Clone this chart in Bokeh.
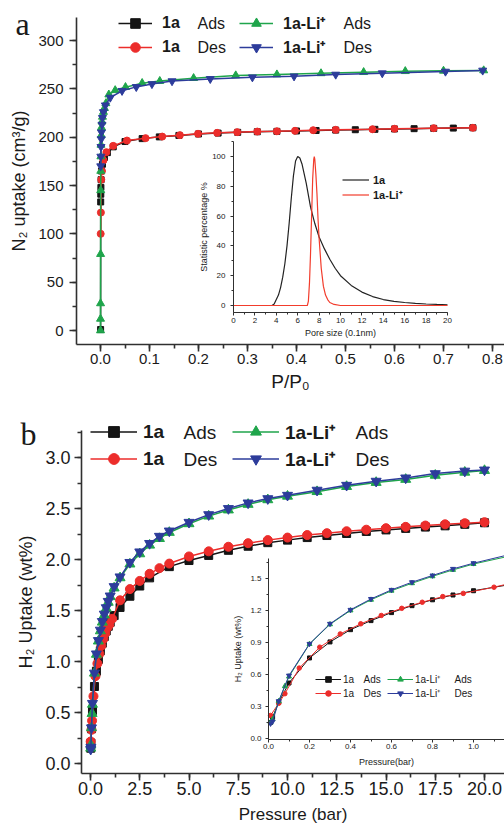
from bokeh.plotting import figure
from bokeh.models import (Range1d, LinearAxis, Legend, LegendItem, Label,
                          SingleIntervalTicker, PrintfTickFormatter, ColumnDataSource)
from bokeh.layouts import column
from bokeh.embed import file_html
from bokeh.resources import INLINE

# ===================== DATA =====================
# Panel a : N2 sorption, P/P0 vs uptake (cm3/g)
n2_1a_ads_p = [0.0002, 0.0004, 0.0006, 0.0008, 0.0012, 0.002, 0.004, 0.008, 0.014, 0.026,
               0.05, 0.085, 0.12, 0.16, 0.2, 0.24, 0.28, 0.32, 0.36, 0.4, 0.44, 0.48,
               0.52, 0.56, 0.6, 0.64, 0.68, 0.72, 0.76]
n2_1a_ads_v = [1, 133, 141, 148, 156, 165, 172, 179, 184, 190,
               195.5, 198.5, 200.3, 201.8, 203.3, 204.2, 205.0, 205.6, 206.0, 206.4, 206.9, 207.3,
               207.7, 208.1, 208.5, 208.8, 209.1, 209.4, 209.7]
n2_1a_des_p = [0.76, 0.68, 0.6, 0.555, 0.48, 0.434, 0.397, 0.36, 0.32, 0.279, 0.238, 0.199,
               0.162, 0.126, 0.092, 0.054, 0.026, 0.012, 0.006, 0.003, 0.0015, 0.0008, 0.0004]
n2_1a_des_v = [209.7, 209.3, 208.7, 208.2, 207.6, 207.2, 206.6, 206.1, 205.8, 205.2, 204.5, 203.5,
               202.1, 200.6, 199.0, 196.5, 191.0, 184.5, 176, 165, 156, 122, 100]
n2_li_ads_p = [0.00002, 0.00005, 0.0001, 0.0002, 0.0004, 0.0006, 0.0008, 0.001, 0.0015, 0.002,
               0.003, 0.004, 0.006, 0.008, 0.011, 0.017, 0.03, 0.051, 0.085, 0.121, 0.19,
               0.276, 0.36, 0.45, 0.537, 0.622, 0.70, 0.782]
n2_li_ads_v = [0, 12, 28, 79, 145, 165, 180, 192, 202, 210,
               216, 221, 226, 230, 235, 244, 248.5, 251.7, 255.9, 258.0, 261.0,
               263.8, 264.8, 266.0, 267.2, 268.2, 268.6, 269.0]
n2_li_des_p = [0.78, 0.704, 0.575, 0.48, 0.395, 0.31, 0.224, 0.146, 0.105, 0.073, 0.044,
               0.02, 0.01, 0.006, 0.004, 0.003, 0.002, 0.0015, 0.001, 0.0007, 0.0005]
n2_li_des_v = [269.0, 267.9, 266.2, 264.8, 263.0, 262.0, 260.3, 258.0, 255.0, 252.0, 248.0,
               241.0, 233.0, 226.0, 220.0, 213.0, 205.0, 198.0, 190.0, 180.0, 170.0]

# Inset a : pore size distribution
psd_1a_size = [0, 3.6, 3.8, 4.0, 4.2, 4.4, 4.6, 4.8, 5.0, 5.2, 5.4, 5.6, 5.8, 6.0, 6.2, 6.4,
               6.8, 7.2, 7.6, 8.0, 8.5, 9.0, 9.5, 10, 11, 12, 13, 14, 15, 16, 17, 18, 19, 20]
psd_1a_pct = [0, 0, 1, 4, 7, 12, 19, 28, 40, 55, 72, 87, 97, 100, 99, 95,
              82, 66, 55, 46, 38, 31, 25, 20, 13.5, 9, 6, 4, 2.8, 2, 1.4, 1, 0.7, 0.5]
psd_li_size = [0, 6.9, 7.0, 7.1, 7.2, 7.3, 7.4, 7.5, 7.55, 7.6, 7.7, 7.8, 7.9, 8.0, 8.2,
               8.4, 8.6, 8.8, 9.0, 9.4, 10, 20]
psd_li_pct = [0, 0, 3, 15, 35, 60, 85, 98, 100, 98, 88, 75, 58, 45, 25,
              13, 7, 4, 2, 0.7, 0, 0]

# Panel b : H2 sorption, pressure (bar) vs uptake (wt%)
h2_1a_ads_p = [0.01, 0.02, 0.05, 0.1, 0.2, 0.3, 0.4, 0.5, 0.6, 0.7, 0.8, 0.9, 1.0, 1.2, 1.5,
               2, 2.5, 3, 4, 5, 6, 7, 8, 9, 10, 11, 12, 13, 14, 15, 16, 17, 18, 19, 20]
h2_1a_ads_w = [0.15, 0.2, 0.34, 0.52, 0.755, 0.905, 1.02, 1.105, 1.18, 1.245, 1.30, 1.345, 1.385,
               1.45, 1.53, 1.64, 1.74, 1.82, 1.93, 1.99, 2.04, 2.09, 2.13, 2.165, 2.19, 2.215,
               2.235, 2.255, 2.275, 2.29, 2.305, 2.318, 2.33, 2.345, 2.36]
h2_1a_des_p = [20, 19, 18, 17, 16, 15, 14, 13, 12, 11, 10, 9, 8, 7, 6, 5, 4, 3.5, 3, 2.5, 2,
               1.5, 1.1, 0.95, 0.85, 0.75, 0.65, 0.55, 0.45, 0.35, 0.25, 0.15, 0.08, 0.05, 0.01]
h2_1a_des_w = [2.366, 2.356, 2.345, 2.333, 2.32, 2.307, 2.292, 2.277, 2.258, 2.24, 2.215, 2.19,
               2.16, 2.125, 2.08, 2.03, 1.96, 1.915, 1.86, 1.79, 1.71, 1.6, 1.418, 1.36, 1.33,
               1.277, 1.22, 1.153, 1.075, 0.98, 0.856, 0.66, 0.42, 0.33, 0.216]
h2_li_ads_p = [0.01, 0.02, 0.05, 0.08, 0.1, 0.2, 0.3, 0.4, 0.5, 0.6, 0.7, 0.8, 0.9, 1.0, 1.2,
               1.5, 2, 2.5, 3, 3.5, 4, 5, 6, 7, 8, 9, 10, 11.5, 13, 14.5, 16, 17.5, 19, 20]
h2_li_ads_w = [0.15, 0.18, 0.35, 0.49, 0.58, 0.885, 1.07, 1.2, 1.3, 1.385, 1.455, 1.52, 1.58,
               1.635, 1.72, 1.82, 1.955, 2.055, 2.14, 2.205, 2.265, 2.35, 2.425, 2.485, 2.54,
               2.585, 2.62, 2.665, 2.715, 2.755, 2.785, 2.825, 2.855, 2.872]
h2_li_des_p = [20, 19, 17.5, 16, 14.5, 13, 11.5, 10, 9, 8, 7, 6, 5, 4, 3.5, 3, 2.5, 2, 1.5,
               1.2, 1.0, 0.9, 0.8, 0.7, 0.6, 0.5, 0.4, 0.3, 0.2, 0.1, 0.05, 0.02, 0.01]
h2_li_des_w = [2.878, 2.867, 2.842, 2.80, 2.768, 2.728, 2.68, 2.63, 2.597, 2.555, 2.5, 2.44,
               2.365, 2.28, 2.228, 2.158, 2.075, 1.972, 1.83, 1.735, 1.643, 1.59, 1.528, 1.465,
               1.393, 1.308, 1.206, 1.075, 0.887, 0.59, 0.35, 0.16, 0.14]

# ===================== STYLE =====================
FONT = "Liberation Sans"
SERIF = "Liberation Serif"
TXT = "#1a1a1a"
AX = "#303030"
BLACK = "#141414"
RED = "#ec2d2b"
GREEN = "#1fa54b"
BLUE = "#2d3c9b"
W = 504


def rng(origin_px, px_per_unit, length_px):
    """range whose value 0 sits origin_px from the low edge of the canvas"""
    start = -origin_px / px_per_unit
    return Range1d(start, start + length_px / px_per_unit)


def add_axis(p, side, loc, bounds, interval, minor, label, fmt, tick_size, label_size,
             tick_out, minor_out, lw, standoff, label_standoff, xr="default", yr="default"):
    ax = LinearAxis(x_range_name=xr, y_range_name=yr, fixed_location=loc, bounds=bounds,
                    ticker=SingleIntervalTicker(interval=interval, num_minor_ticks=minor),
                    axis_label=label)
    if fmt:
        ax.formatter = PrintfTickFormatter(format=fmt)
    ax.axis_line_width = lw
    ax.axis_line_color = AX
    ax.major_tick_line_color = AX
    ax.major_tick_line_width = lw
    ax.minor_tick_line_color = AX
    ax.minor_tick_line_width = lw
    ax.major_tick_in = 0
    ax.major_tick_out = tick_out
    ax.minor_tick_in = 0
    ax.minor_tick_out = minor_out
    ax.major_label_text_font = FONT
    ax.major_label_text_font_size = f"{tick_size}px"
    ax.major_label_text_color = TXT
    ax.major_label_standoff = standoff
    ax.axis_label_text_font = FONT
    ax.axis_label_text_font_size = f"{label_size}px"
    ax.axis_label_text_font_style = "normal"
    ax.axis_label_text_color = TXT
    ax.axis_label_standoff = label_standoff
    p.add_layout(ax, side)
    return ax


def make_legend(p, items, loc, size, bold, gw, gh, standoff, lw):
    lg = Legend(items=items, location=loc, orientation="vertical", nrows=2,
                glyph_width=gw, glyph_height=gh, label_height=gh, label_width=lw,
                label_standoff=standoff, spacing=0, padding=0, margin=0,
                border_line_color=None, background_fill_alpha=0,
                label_text_font=FONT, label_text_font_size=f"{size}px",
                label_text_font_style="bold" if bold else "normal",
                label_text_color=TXT)
    p.add_layout(lg, "center")


def screen_text(p, x, y, text, size, font=FONT, baseline="middle"):
    p.add_layout(Label(x=x, y=y, x_units="screen", y_units="screen", text=text,
                       text_font=font, text_font_size=f"{size}px", text_color=TXT,
                       text_baseline=baseline, text_align="left"))


def new_fig(h, xr, yr):
    p = figure(width=W, height=h, output_backend="svg", toolbar_location=None,
               x_range=xr, y_range=yr, x_axis_location=None, y_axis_location=None,
               min_border=0)
    p.grid.visible = False
    p.outline_line_color = None
    p.background_fill_color = "white"
    p.border_fill_color = "white"
    return p


# ===================== PANEL A =====================
HA = 396
pa = new_fig(HA, rng(100, 490, W), rng(HA - 330, 290 / 300, HA))
pa.extra_x_ranges = {"ix": rng(233, 10.7, W)}
pa.extra_y_ranges = {"iy": rng(HA - 305, 1.49, HA)}

add_axis(pa, "below", -14.5, (-0.049, 0.83), 0.1, 2, "P/P\u2080", "%.1f",
         15, 19, 7, 4, 1.6, 2, 4)
add_axis(pa, "left", -0.049, (-14.5, 323.8), 50, 2, "N\u2082 uptake (cm\u00b3/g)", None,
         15, 18, 7, 4, 1.6, 6, 6)

series_a = dict(
    a1=(n2_1a_ads_p, n2_1a_ads_v, BLACK, "square", 6),
    a2=(n2_1a_des_p, n2_1a_des_v, RED, "circle", 7),
    a3=(n2_li_ads_p, n2_li_ads_v, GREEN, "triangle", 8),
    a4=(n2_li_des_p, n2_li_des_v, BLUE, "inverted_triangle", 8),
)
rend_a = {}
for k, (xs, ys, c, m, s) in series_a.items():
    cds = ColumnDataSource(dict(x=xs, y=ys))
    ln = pa.line("x", "y", source=cds, line_color=c, line_width=1.5)
    sc = pa.scatter("x", "y", source=cds, marker=m, size=s, fill_color=c, line_color=c)
    rend_a[k] = [ln, sc]

make_legend(pa, [LegendItem(label="1a", renderers=rend_a["a1"]),
                 LegendItem(label="1a", renderers=rend_a["a2"]),
                 LegendItem(label="1a-Li\u207a", renderers=rend_a["a3"]),
                 LegendItem(label="1a-Li\u207a", renderers=rend_a["a4"])],
            (118, HA - 59), 16, True, 34, 24, 10, 77)
for x, y, t in [(197, 23, "Ads"), (197, 47, "Des"), (343, 23, "Ads"), (343, 47, "Des")]:
    screen_text(pa, x, HA - y, t, 16)
screen_text(pa, 15, HA - 23, "a", 32, font=SERIF, baseline="alphabetic")

# inset a : pore size distribution
l1 = pa.line(psd_1a_size, psd_1a_pct, x_range_name="ix", y_range_name="iy",
             line_color="#222222", line_width=1.2)
l2 = pa.line(psd_li_size, psd_li_pct, x_range_name="ix", y_range_name="iy",
             line_color="#f23c2c", line_width=1.2)
add_axis(pa, "below", -4.5, (0, 20), 2, 2, "Pore size (0.1nm)", None,
         8, 9, 3, 2, 1, 3, 1, xr="ix", yr="iy")
add_axis(pa, "left", 0, (-4.5, 110), 20, 2, "Statistic percentage %", None,
         8, 9, 3, 2, 1, 5, 0, xr="ix", yr="iy")
lg_ia = Legend(items=[LegendItem(label="1a", renderers=[l1]),
                      LegendItem(label="1a-Li\u207a", renderers=[l2])],
               location=(342, HA - 202), orientation="vertical",
               glyph_width=27, glyph_height=15, label_height=15, label_standoff=4,
               spacing=0, padding=0, margin=0, border_line_color=None,
               background_fill_alpha=0, label_text_font=FONT, label_text_font_size="11px",
               label_text_font_style="bold", label_text_color=TXT)
pa.add_layout(lg_ia, "center")

# ===================== PANEL B =====================
HB = 827 - HA
pb = new_fig(HB, rng(90, 19.7, W), rng(827 - 763, 102, HB))
pb.extra_x_ranges = {"ix": rng(268, 205, W)}
pb.extra_y_ranges = {"iy": rng(827 - 738, 106.7, HB)}

add_axis(pb, "below", -0.098, (-0.457, 21.0), 2.5, 2, "Pressure (bar)", "%.1f",
         18, 17, 7, 4, 1.6, 2, 6)
add_axis(pb, "left", -0.457, (-0.098, 3.265), 0.5, 2, "H\u2082 Uptake (wt%)", "%.1f",
         18, 18, 7, 4, 1.6, 4, 6)

series_b = dict(
    b1=(h2_1a_ads_p, h2_1a_ads_w, BLACK, "square", 8, 4),
    b2=(h2_1a_des_p, h2_1a_des_w, RED, "circle", 9, 4.5),
    b3=(h2_li_ads_p, h2_li_ads_w, GREEN, "triangle", 10, 5),
    b4=(h2_li_des_p, h2_li_des_w, BLUE, "inverted_triangle", 10, 5),
)
rend_b = {}
rend_ib = {}
for k, (xs, ys, c, m, s, si) in series_b.items():
    cds = ColumnDataSource(dict(x=xs, y=ys))
    ln = pb.line("x", "y", source=cds, line_color=c, line_width=1.5)
    sc = pb.scatter("x", "y", source=cds, marker=m, size=s, fill_color=c, line_color=c)
    rend_b[k] = [ln, sc]
    lni = pb.line("x", "y", source=cds, line_color=c, line_width=1.0,
                  x_range_name="ix", y_range_name="iy")
    sci = pb.scatter("x", "y", source=cds, marker=m, size=si, fill_color=c, line_color=c,
                     x_range_name="ix", y_range_name="iy")
    rend_ib[k] = [lni, sci]

make_legend(pb, [LegendItem(label="1a", renderers=rend_b["b1"]),
                 LegendItem(label="1a", renderers=rend_b["b2"]),
                 LegendItem(label="1a-Li\u207a", renderers=rend_b["b3"]),
                 LegendItem(label="1a-Li\u207a", renderers=rend_b["b4"])],
            (90, 827 - 472), 19, True, 47, 27, 6, 89)
for x, y, t in [(183, 432, "Ads"), (183, 459, "Des"), (355, 432, "Ads"), (355, 459, "Des")]:
    screen_text(pb, x, 827 - y, t, 19)
screen_text(pb, 20, 827 - 433, "b", 32, font=SERIF, baseline="alphabetic")

# inset b : low-pressure region
add_axis(pb, "below", -0.012, (0, 1.16), 0.2, 2, "Pressure(bar)", "%.1f",
         8, 9, 3, 2, 1, 1, 5, xr="ix", yr="iy")
add_axis(pb, "left", 0, (-0.012, 1.69), 0.3, 2, "H\u2082 Uptake (wt%)", "%.1f",
         8, 9, 3, 2, 1, 4, 4, xr="ix", yr="iy")
make_legend(pb, [LegendItem(label="1a", renderers=rend_ib["b1"]),
                 LegendItem(label="1a", renderers=rend_ib["b2"]),
                 LegendItem(label="1a-Li\u207a", renderers=rend_ib["b3"]),
                 LegendItem(label="1a-Li\u207a", renderers=rend_ib["b4"])],
            (315, 827 - 700), 10, False, 26, 14, 2, 44)
for x, y, t in [(363, 679, "Ads"), (363, 693, "Des"), (454, 679, "Ads"), (454, 693, "Des")]:
    screen_text(pb, x, 827 - y, t, 10)

layout = column(pa, pb, spacing=0)
open("out.html", "w").write(file_html(layout, INLINE))
